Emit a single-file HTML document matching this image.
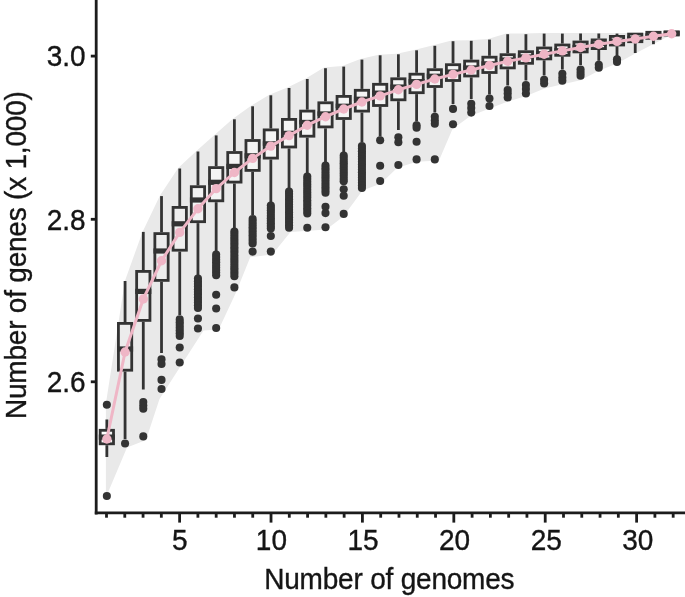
<!DOCTYPE html>
<html lang="en">
<head>
<meta charset="utf-8">
<title>Number of genes vs number of genomes</title>
<style>
html,body{margin:0;padding:0;background:#ffffff;}
body{width:685px;height:597px;overflow:hidden;}
svg{display:block;}
</style>
</head>
<body>
<svg width="685" height="597" viewBox="0 0 685 597">
<rect width="685" height="597" fill="#ffffff"/>
<polygon points="105.9,403.5 124.9,281.0 142.5,231.9 160.0,195.5 178.2,167.9 196.4,150.9 214.7,134.8 232.9,118.7 251.1,105.7 269.3,94.7 287.5,87.4 305.8,78.4 324.0,67.6 342.2,66.0 360.4,59.0 378.6,54.7 396.9,53.7 415.1,49.7 433.3,45.2 451.5,40.6 469.8,40.2 488.0,39.0 506.2,33.6 524.4,33.6 542.6,33.0 560.9,33.0 579.1,32.9 597.3,32.9 615.5,33.0 633.7,33.0 651.9,33.0 672.5,33.0 672.5,34.3 653.5,44.0 635.2,53.4 617.0,63.4 598.8,70.8 580.6,80.3 562.5,84.2 544.5,88.4 526.2,96.0 508.0,101.5 489.5,108.5 470.5,116.0 452.5,129.0 439.0,160.4 416.5,161.8 397.0,168.0 381.0,183.5 362.5,190.4 343.4,216.5 326.3,229.5 290.5,232.0 272.3,254.5 250.2,257.2 236.0,292.5 218.7,329.6 203.5,330.5 159.5,399.0 146.0,440.0 127.0,447.5 105.9,497.5" fill="#e9e9e9"/>
<g stroke="#333333" stroke-width="2.8" fill="none">
<line x1="106.85" y1="419.5" x2="106.85" y2="428.9"/>
<line x1="106.85" y1="445.2" x2="106.85" y2="457.0"/>
<line x1="125.07" y1="281.0" x2="125.07" y2="322.0"/>
<line x1="125.07" y1="371.6" x2="125.07" y2="439.0"/>
<line x1="143.29" y1="231.9" x2="143.29" y2="270.0"/>
<line x1="143.29" y1="321.8" x2="143.29" y2="389.5"/>
<line x1="161.51" y1="196.1" x2="161.51" y2="232.2"/>
<line x1="161.51" y1="281.8" x2="161.51" y2="353.0"/>
<line x1="179.73" y1="168.5" x2="179.73" y2="206.0"/>
<line x1="179.73" y1="251.6" x2="179.73" y2="315.0"/>
<line x1="197.95" y1="151.5" x2="197.95" y2="185.3"/>
<line x1="197.95" y1="223.1" x2="197.95" y2="275.0"/>
<line x1="216.17" y1="135.4" x2="216.17" y2="166.2"/>
<line x1="216.17" y1="202.2" x2="216.17" y2="251.0"/>
<line x1="234.39" y1="119.3" x2="234.39" y2="151.1"/>
<line x1="234.39" y1="183.5" x2="234.39" y2="228.0"/>
<line x1="252.61" y1="106.3" x2="252.61" y2="139.1"/>
<line x1="252.61" y1="171.8" x2="252.61" y2="215.0"/>
<line x1="270.83" y1="95.3" x2="270.83" y2="128.5"/>
<line x1="270.83" y1="159.5" x2="270.83" y2="202.0"/>
<line x1="289.05" y1="88.0" x2="289.05" y2="118.0"/>
<line x1="289.05" y1="148.4" x2="289.05" y2="188.0"/>
<line x1="307.27" y1="79.0" x2="307.27" y2="109.7"/>
<line x1="307.27" y1="137.6" x2="307.27" y2="173.0"/>
<line x1="325.49" y1="68.2" x2="325.49" y2="101.4"/>
<line x1="325.49" y1="128.3" x2="325.49" y2="162.0"/>
<line x1="343.71" y1="66.6" x2="343.71" y2="95.0"/>
<line x1="343.71" y1="119.9" x2="343.71" y2="152.0"/>
<line x1="361.93" y1="59.6" x2="361.93" y2="88.9"/>
<line x1="361.93" y1="112.5" x2="361.93" y2="142.0"/>
<line x1="380.15" y1="55.3" x2="380.15" y2="82.9"/>
<line x1="380.15" y1="106.9" x2="380.15" y2="136.5"/>
<line x1="398.37" y1="54.3" x2="398.37" y2="77.4"/>
<line x1="398.37" y1="101.2" x2="398.37" y2="130.0"/>
<line x1="416.59" y1="50.3" x2="416.59" y2="72.8"/>
<line x1="416.59" y1="94.1" x2="416.59" y2="121.5"/>
<line x1="434.81" y1="45.8" x2="434.81" y2="68.3"/>
<line x1="434.81" y1="87.9" x2="434.81" y2="112.5"/>
<line x1="453.03" y1="41.2" x2="453.03" y2="63.3"/>
<line x1="453.03" y1="81.9" x2="453.03" y2="104.0"/>
<line x1="471.25" y1="40.8" x2="471.25" y2="59.7"/>
<line x1="471.25" y1="77.4" x2="471.25" y2="99.0"/>
<line x1="489.47" y1="39.6" x2="489.47" y2="55.8"/>
<line x1="489.47" y1="73.9" x2="489.47" y2="94.5"/>
<line x1="507.69" y1="34.2" x2="507.69" y2="53.3"/>
<line x1="507.69" y1="69.3" x2="507.69" y2="85.5"/>
<line x1="525.91" y1="34.2" x2="525.91" y2="50.3"/>
<line x1="525.91" y1="64.7" x2="525.91" y2="80.5"/>
<line x1="544.13" y1="33.6" x2="544.13" y2="46.6"/>
<line x1="544.13" y1="60.3" x2="544.13" y2="75.5"/>
<line x1="562.35" y1="33.6" x2="562.35" y2="43.6"/>
<line x1="562.35" y1="56.7" x2="562.35" y2="69.5"/>
<line x1="580.57" y1="33.5" x2="580.57" y2="40.6"/>
<line x1="580.57" y1="53.3" x2="580.57" y2="65.0"/>
<line x1="598.79" y1="33.5" x2="598.79" y2="38.5"/>
<line x1="598.79" y1="50.0" x2="598.79" y2="60.8"/>
<line x1="617.01" y1="33.6" x2="617.01" y2="35.0"/>
<line x1="617.01" y1="46.4" x2="617.01" y2="56.0"/>
<line x1="635.23" y1="43.1" x2="635.23" y2="53.0"/>
<line x1="653.45" y1="39.7" x2="653.45" y2="44.2"/>
</g>
<g stroke="#333333" stroke-width="2.8" fill="#ffffff">
<rect x="100.20" y="430.3" width="13.30" height="13.5" fill-opacity="0.50"/>
<rect x="118.42" y="323.4" width="13.30" height="46.8" fill-opacity="0.16"/>
<rect x="136.64" y="271.4" width="13.30" height="49.0" fill-opacity="0.15"/>
<rect x="154.86" y="233.6" width="13.30" height="46.8" fill-opacity="0.16"/>
<rect x="173.08" y="207.4" width="13.30" height="42.8" fill-opacity="0.24"/>
<rect x="191.30" y="186.7" width="13.30" height="35.0" fill-opacity="0.40"/>
<rect x="209.52" y="167.6" width="13.30" height="33.2" fill-opacity="0.44"/>
<rect x="227.74" y="152.5" width="13.30" height="29.6" fill-opacity="0.50"/>
<rect x="245.96" y="140.5" width="13.30" height="29.9" fill-opacity="0.50"/>
<rect x="264.18" y="129.9" width="13.30" height="28.2" fill-opacity="0.50"/>
<rect x="282.40" y="119.4" width="13.30" height="27.6" fill-opacity="0.50"/>
<rect x="300.62" y="111.1" width="13.30" height="25.1" fill-opacity="0.50"/>
<rect x="318.84" y="102.8" width="13.30" height="24.1" fill-opacity="0.50"/>
<rect x="337.06" y="96.4" width="13.30" height="22.1" fill-opacity="0.50"/>
<rect x="355.28" y="90.3" width="13.30" height="20.8" fill-opacity="0.50"/>
<rect x="373.50" y="84.3" width="13.30" height="21.2" fill-opacity="0.50"/>
<rect x="391.72" y="78.8" width="13.30" height="21.0" fill-opacity="0.50"/>
<rect x="409.94" y="74.2" width="13.30" height="18.5" fill-opacity="0.50"/>
<rect x="428.16" y="69.7" width="13.30" height="16.8" fill-opacity="0.50"/>
<rect x="446.38" y="64.7" width="13.30" height="15.8" fill-opacity="0.50"/>
<rect x="464.60" y="61.1" width="13.30" height="14.9" fill-opacity="0.50"/>
<rect x="482.82" y="57.2" width="13.30" height="15.3" fill-opacity="0.50"/>
<rect x="501.04" y="54.7" width="13.30" height="13.2" fill-opacity="0.50"/>
<rect x="519.26" y="51.7" width="13.30" height="11.6" fill-opacity="0.50"/>
<rect x="537.48" y="48.0" width="13.30" height="10.9" fill-opacity="0.50"/>
<rect x="555.70" y="45.0" width="13.30" height="10.3" fill-opacity="0.50"/>
<rect x="573.92" y="42.0" width="13.30" height="9.9" fill-opacity="0.50"/>
<rect x="592.14" y="39.9" width="13.30" height="8.7" fill-opacity="0.50"/>
<rect x="610.36" y="36.4" width="13.30" height="8.6" fill-opacity="0.50"/>
<rect x="628.58" y="34.1" width="13.30" height="7.6" fill-opacity="0.50"/>
<rect x="646.80" y="32.3" width="13.30" height="6.0" fill-opacity="0.50"/>
<rect x="665.02" y="31.8" width="13.30" height="3.2" fill-opacity="0.50"/>
</g>
<g stroke="#333333">
<line x1="98.80" y1="437.1" x2="114.90" y2="437.1" stroke-width="5.2"/>
<line x1="117.02" y1="349.0" x2="133.12" y2="349.0" stroke-width="5.2"/>
<line x1="135.24" y1="291.4" x2="151.34" y2="291.4" stroke-width="5.2"/>
<line x1="153.46" y1="251.0" x2="169.56" y2="251.0" stroke-width="5.2"/>
<line x1="171.68" y1="223.8" x2="187.78" y2="223.8" stroke-width="5.2"/>
<line x1="189.90" y1="200.0" x2="206.00" y2="200.0" stroke-width="5.2"/>
<line x1="208.12" y1="182.3" x2="224.22" y2="182.3" stroke-width="5.2"/>
<line x1="226.34" y1="166.4" x2="242.44" y2="166.4" stroke-width="5.2"/>
<line x1="244.56" y1="155.8" x2="260.66" y2="155.8" stroke-width="5.2"/>
<line x1="262.78" y1="143.5" x2="278.88" y2="143.5" stroke-width="4.5"/>
<line x1="281.00" y1="133.0" x2="297.10" y2="133.0" stroke-width="4.5"/>
<line x1="299.22" y1="122.1" x2="315.32" y2="122.1" stroke-width="4.5"/>
<line x1="317.44" y1="113.6" x2="333.54" y2="113.6" stroke-width="4.5"/>
<line x1="335.66" y1="105.9" x2="351.76" y2="105.9" stroke-width="4.5"/>
<line x1="353.88" y1="98.9" x2="369.98" y2="98.9" stroke-width="4.5"/>
<line x1="372.10" y1="92.8" x2="388.20" y2="92.8" stroke-width="4.5"/>
<line x1="390.32" y1="86.7" x2="406.42" y2="86.7" stroke-width="4.5"/>
<line x1="408.54" y1="81.3" x2="424.64" y2="81.3" stroke-width="4.5"/>
<line x1="426.76" y1="75.9" x2="442.86" y2="75.9" stroke-width="4.5"/>
<line x1="444.98" y1="71.7" x2="461.08" y2="71.7" stroke-width="4.5"/>
<line x1="463.20" y1="67.6" x2="479.30" y2="67.6" stroke-width="4.5"/>
<line x1="481.42" y1="63.5" x2="497.52" y2="63.5" stroke-width="4.5"/>
<line x1="499.64" y1="59.7" x2="515.74" y2="59.7" stroke-width="4.5"/>
<line x1="517.86" y1="56.6" x2="533.96" y2="56.6" stroke-width="4.5"/>
<line x1="536.08" y1="53.4" x2="552.18" y2="53.4" stroke-width="4.5"/>
<line x1="554.30" y1="50.4" x2="570.40" y2="50.4" stroke-width="4.5"/>
<line x1="572.52" y1="47.0" x2="588.62" y2="47.0" stroke-width="4.5"/>
<line x1="590.74" y1="43.7" x2="606.84" y2="43.7" stroke-width="4.5"/>
<line x1="608.96" y1="40.9" x2="625.06" y2="40.9" stroke-width="4.5"/>
<line x1="627.18" y1="38.5" x2="643.28" y2="38.5" stroke-width="4.5"/>
<line x1="645.40" y1="35.7" x2="661.50" y2="35.7" stroke-width="4.5"/>
<line x1="663.62" y1="33.3" x2="679.72" y2="33.3" stroke-width="4.5"/>
</g>
<g fill="#333333">
<circle cx="106.85" cy="404.8" r="4.05"/>
<circle cx="106.85" cy="496.0" r="4.05"/>
<circle cx="125.07" cy="443.5" r="4.05"/>
<circle cx="143.29" cy="402.1" r="4.05"/>
<circle cx="143.29" cy="405.5" r="4.05"/>
<circle cx="143.29" cy="408.8" r="4.05"/>
<circle cx="143.29" cy="436.4" r="4.05"/>
<circle cx="161.51" cy="359.4" r="4.05"/>
<circle cx="161.51" cy="364.0" r="4.05"/>
<circle cx="161.51" cy="379.9" r="4.05"/>
<circle cx="161.51" cy="389.0" r="4.05"/>
<circle cx="179.73" cy="319.4" r="4.05"/>
<circle cx="179.73" cy="322.2" r="4.05"/>
<circle cx="179.73" cy="324.9" r="4.05"/>
<circle cx="179.73" cy="327.7" r="4.05"/>
<circle cx="179.73" cy="330.5" r="4.05"/>
<circle cx="179.73" cy="333.2" r="4.05"/>
<circle cx="179.73" cy="336.0" r="4.05"/>
<circle cx="179.73" cy="347.5" r="4.05"/>
<circle cx="179.73" cy="362.5" r="4.05"/>
<circle cx="197.95" cy="278.5" r="4.05"/>
<circle cx="197.95" cy="281.2" r="4.05"/>
<circle cx="197.95" cy="283.9" r="4.05"/>
<circle cx="197.95" cy="286.5" r="4.05"/>
<circle cx="197.95" cy="289.2" r="4.05"/>
<circle cx="197.95" cy="291.9" r="4.05"/>
<circle cx="197.95" cy="294.6" r="4.05"/>
<circle cx="197.95" cy="297.3" r="4.05"/>
<circle cx="197.95" cy="300.0" r="4.05"/>
<circle cx="197.95" cy="302.6" r="4.05"/>
<circle cx="197.95" cy="305.3" r="4.05"/>
<circle cx="197.95" cy="308.0" r="4.05"/>
<circle cx="197.95" cy="318.5" r="4.05"/>
<circle cx="197.95" cy="328.5" r="4.05"/>
<circle cx="216.17" cy="254.5" r="4.05"/>
<circle cx="216.17" cy="257.1" r="4.05"/>
<circle cx="216.17" cy="259.7" r="4.05"/>
<circle cx="216.17" cy="262.3" r="4.05"/>
<circle cx="216.17" cy="264.9" r="4.05"/>
<circle cx="216.17" cy="267.4" r="4.05"/>
<circle cx="216.17" cy="270.0" r="4.05"/>
<circle cx="216.17" cy="272.6" r="4.05"/>
<circle cx="216.17" cy="275.2" r="4.05"/>
<circle cx="216.17" cy="294.7" r="4.05"/>
<circle cx="216.17" cy="308.5" r="4.05"/>
<circle cx="216.17" cy="328.0" r="4.05"/>
<circle cx="234.39" cy="231.5" r="4.05"/>
<circle cx="234.39" cy="234.1" r="4.05"/>
<circle cx="234.39" cy="236.8" r="4.05"/>
<circle cx="234.39" cy="239.4" r="4.05"/>
<circle cx="234.39" cy="242.0" r="4.05"/>
<circle cx="234.39" cy="244.6" r="4.05"/>
<circle cx="234.39" cy="247.3" r="4.05"/>
<circle cx="234.39" cy="249.9" r="4.05"/>
<circle cx="234.39" cy="252.5" r="4.05"/>
<circle cx="234.39" cy="255.2" r="4.05"/>
<circle cx="234.39" cy="257.8" r="4.05"/>
<circle cx="234.39" cy="260.4" r="4.05"/>
<circle cx="234.39" cy="263.1" r="4.05"/>
<circle cx="234.39" cy="265.7" r="4.05"/>
<circle cx="234.39" cy="268.3" r="4.05"/>
<circle cx="234.39" cy="270.9" r="4.05"/>
<circle cx="234.39" cy="273.6" r="4.05"/>
<circle cx="234.39" cy="276.2" r="4.05"/>
<circle cx="234.39" cy="287.4" r="4.05"/>
<circle cx="252.61" cy="219.0" r="4.05"/>
<circle cx="252.61" cy="221.7" r="4.05"/>
<circle cx="252.61" cy="224.4" r="4.05"/>
<circle cx="252.61" cy="227.2" r="4.05"/>
<circle cx="252.61" cy="229.9" r="4.05"/>
<circle cx="252.61" cy="232.6" r="4.05"/>
<circle cx="252.61" cy="235.3" r="4.05"/>
<circle cx="252.61" cy="238.1" r="4.05"/>
<circle cx="252.61" cy="240.8" r="4.05"/>
<circle cx="252.61" cy="243.5" r="4.05"/>
<circle cx="252.61" cy="251.6" r="4.05"/>
<circle cx="270.83" cy="205.5" r="4.05"/>
<circle cx="270.83" cy="208.0" r="4.05"/>
<circle cx="270.83" cy="210.6" r="4.05"/>
<circle cx="270.83" cy="213.1" r="4.05"/>
<circle cx="270.83" cy="215.7" r="4.05"/>
<circle cx="270.83" cy="218.2" r="4.05"/>
<circle cx="270.83" cy="220.8" r="4.05"/>
<circle cx="270.83" cy="223.3" r="4.05"/>
<circle cx="270.83" cy="225.9" r="4.05"/>
<circle cx="270.83" cy="228.4" r="4.05"/>
<circle cx="270.83" cy="236.0" r="4.05"/>
<circle cx="270.83" cy="251.6" r="4.05"/>
<circle cx="289.05" cy="191.5" r="4.05"/>
<circle cx="289.05" cy="194.1" r="4.05"/>
<circle cx="289.05" cy="196.7" r="4.05"/>
<circle cx="289.05" cy="199.3" r="4.05"/>
<circle cx="289.05" cy="201.9" r="4.05"/>
<circle cx="289.05" cy="204.5" r="4.05"/>
<circle cx="289.05" cy="207.1" r="4.05"/>
<circle cx="289.05" cy="209.7" r="4.05"/>
<circle cx="289.05" cy="212.2" r="4.05"/>
<circle cx="289.05" cy="214.8" r="4.05"/>
<circle cx="289.05" cy="217.4" r="4.05"/>
<circle cx="289.05" cy="220.0" r="4.05"/>
<circle cx="289.05" cy="222.6" r="4.05"/>
<circle cx="289.05" cy="225.2" r="4.05"/>
<circle cx="289.05" cy="227.8" r="4.05"/>
<circle cx="307.27" cy="176.5" r="4.05"/>
<circle cx="307.27" cy="179.1" r="4.05"/>
<circle cx="307.27" cy="181.8" r="4.05"/>
<circle cx="307.27" cy="184.4" r="4.05"/>
<circle cx="307.27" cy="187.1" r="4.05"/>
<circle cx="307.27" cy="189.7" r="4.05"/>
<circle cx="307.27" cy="192.4" r="4.05"/>
<circle cx="307.27" cy="195.0" r="4.05"/>
<circle cx="307.27" cy="197.6" r="4.05"/>
<circle cx="307.27" cy="200.3" r="4.05"/>
<circle cx="307.27" cy="202.9" r="4.05"/>
<circle cx="307.27" cy="205.6" r="4.05"/>
<circle cx="307.27" cy="208.2" r="4.05"/>
<circle cx="307.27" cy="210.9" r="4.05"/>
<circle cx="307.27" cy="213.5" r="4.05"/>
<circle cx="307.27" cy="227.7" r="4.05"/>
<circle cx="325.49" cy="165.5" r="4.05"/>
<circle cx="325.49" cy="168.2" r="4.05"/>
<circle cx="325.49" cy="170.9" r="4.05"/>
<circle cx="325.49" cy="173.7" r="4.05"/>
<circle cx="325.49" cy="176.4" r="4.05"/>
<circle cx="325.49" cy="179.1" r="4.05"/>
<circle cx="325.49" cy="181.8" r="4.05"/>
<circle cx="325.49" cy="184.5" r="4.05"/>
<circle cx="325.49" cy="187.3" r="4.05"/>
<circle cx="325.49" cy="190.0" r="4.05"/>
<circle cx="325.49" cy="192.7" r="4.05"/>
<circle cx="325.49" cy="206.8" r="4.05"/>
<circle cx="325.49" cy="213.1" r="4.05"/>
<circle cx="325.49" cy="227.2" r="4.05"/>
<circle cx="343.71" cy="155.5" r="4.05"/>
<circle cx="343.71" cy="158.1" r="4.05"/>
<circle cx="343.71" cy="160.7" r="4.05"/>
<circle cx="343.71" cy="163.2" r="4.05"/>
<circle cx="343.71" cy="165.8" r="4.05"/>
<circle cx="343.71" cy="168.4" r="4.05"/>
<circle cx="343.71" cy="171.0" r="4.05"/>
<circle cx="343.71" cy="173.6" r="4.05"/>
<circle cx="343.71" cy="176.1" r="4.05"/>
<circle cx="343.71" cy="178.7" r="4.05"/>
<circle cx="343.71" cy="181.3" r="4.05"/>
<circle cx="343.71" cy="189.3" r="4.05"/>
<circle cx="343.71" cy="195.8" r="4.05"/>
<circle cx="343.71" cy="213.9" r="4.05"/>
<circle cx="361.93" cy="146.0" r="4.05"/>
<circle cx="361.93" cy="148.6" r="4.05"/>
<circle cx="361.93" cy="151.2" r="4.05"/>
<circle cx="361.93" cy="153.9" r="4.05"/>
<circle cx="361.93" cy="156.5" r="4.05"/>
<circle cx="361.93" cy="159.1" r="4.05"/>
<circle cx="361.93" cy="161.8" r="4.05"/>
<circle cx="361.93" cy="164.4" r="4.05"/>
<circle cx="361.93" cy="167.0" r="4.05"/>
<circle cx="361.93" cy="169.6" r="4.05"/>
<circle cx="361.93" cy="172.2" r="4.05"/>
<circle cx="361.93" cy="174.9" r="4.05"/>
<circle cx="361.93" cy="177.5" r="4.05"/>
<circle cx="361.93" cy="180.1" r="4.05"/>
<circle cx="361.93" cy="182.8" r="4.05"/>
<circle cx="361.93" cy="185.4" r="4.05"/>
<circle cx="361.93" cy="188.0" r="4.05"/>
<circle cx="380.15" cy="140.3" r="4.05"/>
<circle cx="380.15" cy="165.8" r="4.05"/>
<circle cx="380.15" cy="181.0" r="4.05"/>
<circle cx="398.37" cy="137.3" r="4.05"/>
<circle cx="398.37" cy="142.3" r="4.05"/>
<circle cx="398.37" cy="165.0" r="4.05"/>
<circle cx="416.59" cy="125.2" r="4.05"/>
<circle cx="416.59" cy="127.8" r="4.05"/>
<circle cx="416.59" cy="141.7" r="4.05"/>
<circle cx="416.59" cy="159.4" r="4.05"/>
<circle cx="434.81" cy="116.8" r="4.05"/>
<circle cx="434.81" cy="120.5" r="4.05"/>
<circle cx="434.81" cy="123.8" r="4.05"/>
<circle cx="434.81" cy="159.4" r="4.05"/>
<circle cx="453.03" cy="108.9" r="4.05"/>
<circle cx="453.03" cy="124.2" r="4.05"/>
<circle cx="471.25" cy="103.8" r="4.05"/>
<circle cx="471.25" cy="108.1" r="4.05"/>
<circle cx="471.25" cy="112.6" r="4.05"/>
<circle cx="489.47" cy="98.5" r="4.05"/>
<circle cx="489.47" cy="106.0" r="4.05"/>
<circle cx="507.69" cy="90.0" r="4.05"/>
<circle cx="507.69" cy="93.5" r="4.05"/>
<circle cx="507.69" cy="97.5" r="4.05"/>
<circle cx="525.91" cy="85.0" r="4.05"/>
<circle cx="525.91" cy="89.0" r="4.05"/>
<circle cx="525.91" cy="93.5" r="4.05"/>
<circle cx="544.13" cy="79.8" r="4.05"/>
<circle cx="544.13" cy="83.4" r="4.05"/>
<circle cx="562.35" cy="73.8" r="4.05"/>
<circle cx="562.35" cy="77.5" r="4.05"/>
<circle cx="562.35" cy="80.8" r="4.05"/>
<circle cx="580.57" cy="69.6" r="4.05"/>
<circle cx="580.57" cy="72.8" r="4.05"/>
<circle cx="580.57" cy="75.8" r="4.05"/>
<circle cx="598.79" cy="64.8" r="4.05"/>
<circle cx="598.79" cy="67.8" r="4.05"/>
<circle cx="617.01" cy="59.3" r="4.05"/>
<circle cx="617.01" cy="62.0" r="4.05"/>
</g>
<polyline points="106.85,439.0 125.07,352.0 143.29,299.0 161.51,260.8 179.73,232.4 197.95,208.8 216.17,188.6 234.39,172.5 252.61,158.4 270.83,146.1 289.05,135.6 307.27,125.2 325.49,116.7 343.71,109.0 361.93,102.0 380.15,95.9 398.37,89.8 416.59,84.4 434.81,79.0 453.03,74.4 471.25,70.0 489.47,65.5 507.69,61.3 525.91,57.9 544.13,54.3 562.35,50.9 580.57,47.5 598.79,44.2 617.01,41.4 635.23,39.0 653.45,36.2 671.67,33.8" fill="none" stroke="#efb6c6" stroke-width="3.0" stroke-linejoin="round"/>
<g fill="#efb6c6">
<circle cx="106.85" cy="439.0" r="4.7"/>
<circle cx="125.07" cy="352.0" r="4.7"/>
<circle cx="143.29" cy="299.0" r="4.7"/>
<circle cx="161.51" cy="260.8" r="4.7"/>
<circle cx="179.73" cy="232.4" r="4.7"/>
<circle cx="197.95" cy="208.8" r="4.7"/>
<circle cx="216.17" cy="188.6" r="4.7"/>
<circle cx="234.39" cy="172.5" r="4.7"/>
<circle cx="252.61" cy="158.4" r="4.7"/>
<circle cx="270.83" cy="146.1" r="4.7"/>
<circle cx="289.05" cy="135.6" r="4.7"/>
<circle cx="307.27" cy="125.2" r="4.7"/>
<circle cx="325.49" cy="116.7" r="4.7"/>
<circle cx="343.71" cy="109.0" r="4.7"/>
<circle cx="361.93" cy="102.0" r="4.7"/>
<circle cx="380.15" cy="95.9" r="4.7"/>
<circle cx="398.37" cy="89.8" r="4.7"/>
<circle cx="416.59" cy="84.4" r="4.7"/>
<circle cx="434.81" cy="79.0" r="4.7"/>
<circle cx="453.03" cy="74.4" r="4.7"/>
<circle cx="471.25" cy="70.0" r="4.7"/>
<circle cx="489.47" cy="65.5" r="4.7"/>
<circle cx="507.69" cy="61.3" r="4.7"/>
<circle cx="525.91" cy="57.9" r="4.7"/>
<circle cx="544.13" cy="54.3" r="4.7"/>
<circle cx="562.35" cy="50.9" r="4.7"/>
<circle cx="580.57" cy="47.5" r="4.7"/>
<circle cx="598.79" cy="44.2" r="4.7"/>
<circle cx="617.01" cy="41.4" r="4.7"/>
<circle cx="635.23" cy="39.0" r="4.7"/>
<circle cx="653.45" cy="36.2" r="4.7"/>
<circle cx="671.67" cy="33.8" r="4.7"/>
</g>
<g stroke="#1c1c1c" fill="none">
<line x1="96.2" y1="0" x2="96.2" y2="514.4" stroke-width="2.8"/>
<line x1="94.8" y1="512.9" x2="685" y2="512.9" stroke-width="2.7"/>
<line x1="90.8" y1="56.1" x2="95" y2="56.1" stroke-width="2.8"/>
<line x1="90.8" y1="219.3" x2="95" y2="219.3" stroke-width="2.8"/>
<line x1="90.8" y1="381.8" x2="95" y2="381.8" stroke-width="2.8"/>
<line x1="106.50" y1="514" x2="106.50" y2="517.7" stroke-width="2.8"/>
<line x1="124.78" y1="514" x2="124.78" y2="517.7" stroke-width="2.8"/>
<line x1="143.06" y1="514" x2="143.06" y2="517.7" stroke-width="2.8"/>
<line x1="161.34" y1="514" x2="161.34" y2="517.7" stroke-width="2.8"/>
<line x1="179.62" y1="514" x2="179.62" y2="522.6" stroke-width="2.8"/>
<line x1="197.90" y1="514" x2="197.90" y2="517.7" stroke-width="2.8"/>
<line x1="216.18" y1="514" x2="216.18" y2="517.7" stroke-width="2.8"/>
<line x1="234.46" y1="514" x2="234.46" y2="517.7" stroke-width="2.8"/>
<line x1="252.74" y1="514" x2="252.74" y2="517.7" stroke-width="2.8"/>
<line x1="271.02" y1="514" x2="271.02" y2="522.6" stroke-width="2.8"/>
<line x1="289.30" y1="514" x2="289.30" y2="517.7" stroke-width="2.8"/>
<line x1="307.58" y1="514" x2="307.58" y2="517.7" stroke-width="2.8"/>
<line x1="325.86" y1="514" x2="325.86" y2="517.7" stroke-width="2.8"/>
<line x1="344.14" y1="514" x2="344.14" y2="517.7" stroke-width="2.8"/>
<line x1="362.42" y1="514" x2="362.42" y2="522.6" stroke-width="2.8"/>
<line x1="380.70" y1="514" x2="380.70" y2="517.7" stroke-width="2.8"/>
<line x1="398.98" y1="514" x2="398.98" y2="517.7" stroke-width="2.8"/>
<line x1="417.26" y1="514" x2="417.26" y2="517.7" stroke-width="2.8"/>
<line x1="435.54" y1="514" x2="435.54" y2="517.7" stroke-width="2.8"/>
<line x1="453.82" y1="514" x2="453.82" y2="522.6" stroke-width="2.8"/>
<line x1="472.10" y1="514" x2="472.10" y2="517.7" stroke-width="2.8"/>
<line x1="490.38" y1="514" x2="490.38" y2="517.7" stroke-width="2.8"/>
<line x1="508.66" y1="514" x2="508.66" y2="517.7" stroke-width="2.8"/>
<line x1="526.94" y1="514" x2="526.94" y2="517.7" stroke-width="2.8"/>
<line x1="545.22" y1="514" x2="545.22" y2="522.6" stroke-width="2.8"/>
<line x1="563.50" y1="514" x2="563.50" y2="517.7" stroke-width="2.8"/>
<line x1="581.78" y1="514" x2="581.78" y2="517.7" stroke-width="2.8"/>
<line x1="600.06" y1="514" x2="600.06" y2="517.7" stroke-width="2.8"/>
<line x1="618.34" y1="514" x2="618.34" y2="517.7" stroke-width="2.8"/>
<line x1="636.62" y1="514" x2="636.62" y2="522.6" stroke-width="2.8"/>
<line x1="654.90" y1="514" x2="654.90" y2="517.7" stroke-width="2.8"/>
<line x1="673.18" y1="514" x2="673.18" y2="517.7" stroke-width="2.8"/>
</g>
<g font-family="'Liberation Sans', sans-serif" font-size="28" fill="#151515" stroke="#151515" stroke-width="0.35">
<text transform="translate(85.6,65.7) scale(1,1.06)" text-anchor="end">3.0</text>
<text transform="translate(85.6,229.5) scale(1,1.06)" text-anchor="end">2.8</text>
<text transform="translate(85.6,392.2) scale(1,1.06)" text-anchor="end">2.6</text>
<text transform="translate(179.8,550.1) scale(1,1.06)" text-anchor="middle">5</text>
<text transform="translate(271.4,550.1) scale(1,1.06)" text-anchor="middle">10</text>
<text transform="translate(363.0,550.1) scale(1,1.06)" text-anchor="middle">15</text>
<text transform="translate(454.6,550.1) scale(1,1.06)" text-anchor="middle">20</text>
<text transform="translate(546.2,550.1) scale(1,1.06)" text-anchor="middle">25</text>
<text transform="translate(637.8,550.1) scale(1,1.06)" text-anchor="middle">30</text>
<text transform="translate(389.3,588.7) scale(1,1.04)" text-anchor="middle" letter-spacing="-0.2">Number of genomes</text>
<text transform="translate(25.5,255.2) rotate(-90) scale(1,1.04)" text-anchor="middle" letter-spacing="-0.21">Number of genes (x 1,000)</text>
</g>
</svg>
</body>
</html>
